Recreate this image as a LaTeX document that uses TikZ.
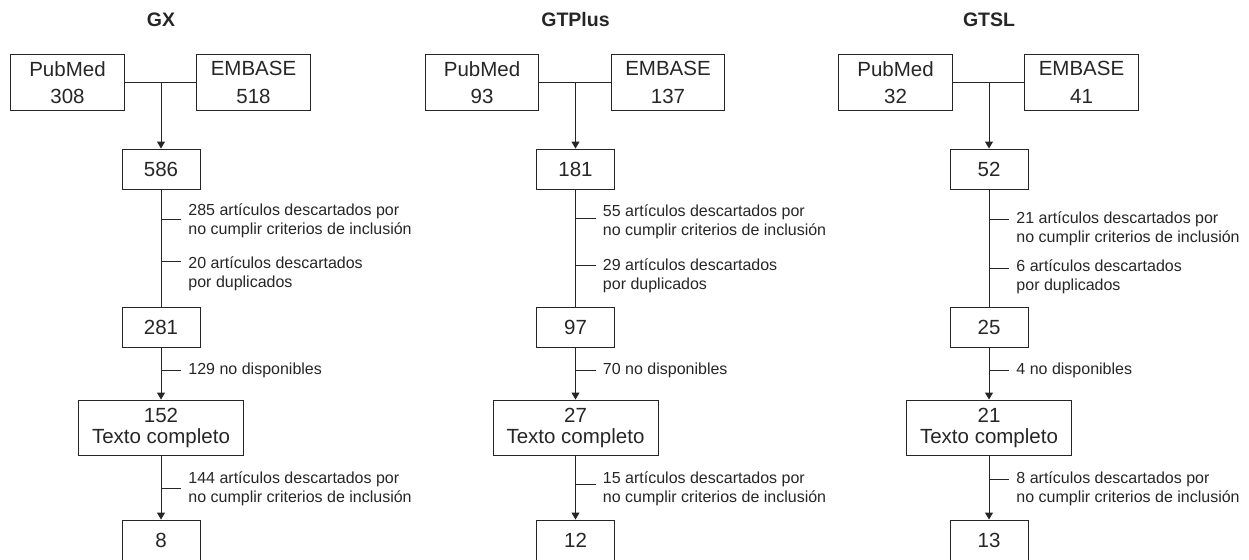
\documentclass[tikz,border=0pt]{standalone}
\usepackage{fontspec}
\setmainfont{Liberation Sans}
\usetikzlibrary{arrows.meta}

\begin{document}
\begin{tikzpicture}[x=1pt, y=-1pt, line width=0.9pt, color=black!85, % unidades en pixeles
  caja/.style={draw, minimum width=78pt, minimum height=40pt, inner sep=0pt,
    align=center, font=\fontsize{20.5}{21}\selectfont},
  base/.style={caja, minimum width=113.5pt, minimum height=56.5pt,
    font=\fontsize{20.5}{27.5}\selectfont},
  texto/.style={caja, minimum width=165pt, minimum height=55pt},
  nota/.style={anchor=west, inner sep=0pt, align=left, font=\fontsize{16}{19}\selectfont},
  titulo/.style={font=\fontsize{19.5}{20}\selectfont\bfseries},
  flecha/.style={-{Triangle[length=7pt,width=8pt]}}]
\useasboundingbox (0,0) rectangle (1249,559);
% x / grupo / PubMed / EMBASE / cajas / descartados / ticks y textos
\foreach \x/\gr/\pmn/\emb/\na/\nb/\nc/\nd/\da/\db/\dc/\dd/\ta/\ya/\tb/\yb/\td in {
  161/GX/308/518/586/281/152/8/285/20/129/144/219/220.5/261/274/488,
  575.5/GTPlus/93/137/181/97/27/12/55/29/70/15/218/222/265/276/484,
  989/GTSL/32/41/52/25/21/13/21/6/4/8/219/228.5/268/277/479}
{
  \node[titulo] (tit) at (\x,20) {\gr};
  \node[base] (pm) at (\x-93.5,82.5) {PubMed\\\pmn};
  \node[base] (eb) at (\x+92.5,82.5) {EMBASE\\\emb};
  \node[caja] (b1) at (\x,169) {\na};
  \node[caja] (b2) at (\x,327) {\nb};
  \node[texto] (b3) at (\x,427.5) {\nc\\Texto completo};
  \node[caja] (b4) at (\x,540) {\nd};
  \coordinate (j) at (\x,82.5);
  \draw (pm) -- (eb); % union de las dos bases
  \draw[flecha] (j) -- (b1);
  \draw (b1) -- (b2);
  \draw[flecha] (b2) -- (b3);
  \draw[flecha] (b3) -- (b4);
  % ramas laterales
  \coordinate (ka) at (\x,\ta);
  \coordinate (kb) at (\x,\tb);
  \coordinate (kc) at (\x,370);
  \coordinate (kd) at (\x,\td);
  \draw (ka) -- ++(20,0);
  \draw (kb) -- ++(20,0);
  \draw (kc) -- ++(20,0);
  \draw (kd) -- ++(20,0);
  \node[nota] (da) at (\x+27,\ya) {\da{} artículos descartados por\\no cumplir criterios de inclusión};
  \node[nota] (db) at (\x+27,\yb) {\db{} artículos descartados\\por duplicados};
  \node[nota] (dc) at (\x+27,370) {\dc{} no disponibles};
  \node[nota] (de) at (\x+27,488.5) {\dd{} artículos descartados por\\no cumplir criterios de inclusión};
}
\end{tikzpicture}
\end{document}
